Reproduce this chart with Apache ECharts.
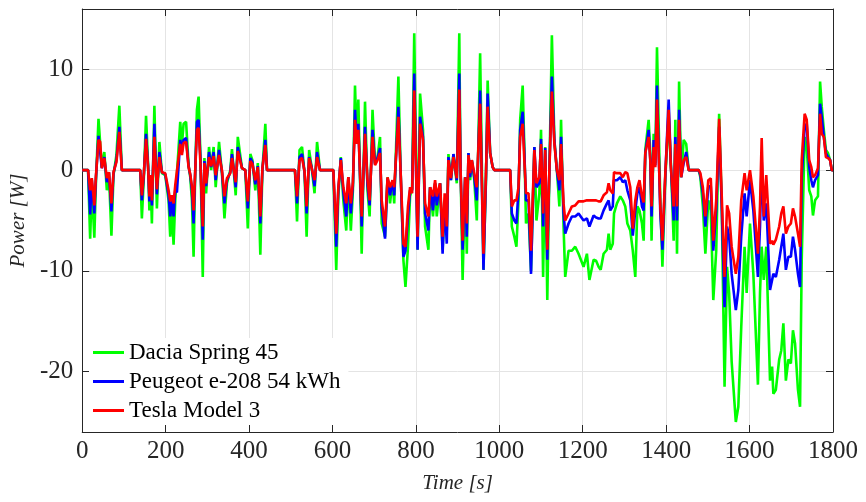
<!DOCTYPE html>
<html>
<head>
<meta charset="utf-8">
<script src="https://cdn.jsdelivr.net/npm/echarts@6/dist/echarts.min.js"></script>
<style>
html,body{margin:0;padding:0;background:#fff;}
#chart{width:866px;height:502px;}
</style>
</head>
<body>
<div id="chart"></div>
<script>
// Time stamps [s]
const time = [0,14,19,23,29,33,39,43,47,53,
 59,64,70,75,82,89,95,139,143,148,
 153,158,161,164,167,173,179,185,191,199,
 207,211,215,219,223,227,235,239,243,249,
 255,259,263,267,271,275,279,283,289,293,
 297,304,309,315,320,328,335,341,347,355,
 359,368,373,383,391,397,403,408,415,421,
 427,432,439,443,510,515,521,527,533,538,
 544,550,557,563,570,602,609,614,620,626,
 633,638,644,649,654,658,662,670,678,684,
 689,696,702,708,714,718,726,732,738,744,
 748,758,764,770,775,781,786,791,796,804,
 810,817,822,830,834,841,846,850,858,864,
 869,874,878,884,890,898,904,907,912,918,
 922,926,930,934,940,946,954,962,968,972,
 978,984,988,1026,1030,1036,1041,1046,1050,1056,
 1060,1064,1070,1076,1084,1089,1096,1100,1105,1110,
 1115,1120,1126,1132,1138,1144,1148,1154,1158,1166,
 1174,1182,1190,1202,1210,1216,1226,1232,1238,1243,
 1250,1258,1262,1266,1272,1275,1282,1290,1296,1302,
 1307,1314,1320,1326,1331,1336,1342,1346,1350,1358,
 1362,1365,1370,1374,1378,1386,1391,1398,1406,1411,
 1418,1422,1426,1431,1436,1442,1448,1454,1478,1482,
 1488,1494,1501,1507,1513,1520,1527,1533,1540,1546,
 1551,1557,1567,1573,1580,1588,1593,1601,1609,1620,
 1625,1629,1634,1640,1649,1654,1657,1663,1671,1676,
 1681,1687,1693,1699,1704,1709,1716,1721,1725,1732,
 1737,1743,1748,1752,1757,1764,1769,1773,1778,1783,
 1788,1793,1797,1800];

// Power [W] – Dacia Spring 45
const dacia = [0,0,-6.8,-1.5,-6.7,-1.0,5.1,5.0,0.3,1.8,
 -2.0,-0.3,-6.5,-0.5,1.5,6.4,0,0,-4.8,-0.5,
 5.4,0.5,-4.0,-1.0,-5.3,6.4,-3.8,2.8,-0.3,-0.5,
 -3.0,-6.6,-4.0,-7.4,-3.0,-3.1,4.8,2.5,4.6,4.8,
 0.5,-0.7,-3.0,-8.6,0,6.0,7.3,2.0,-10.6,1.2,
 -2.3,2.3,0,2.3,-1.7,2.8,-0.3,-4.8,-1.3,0,
 2.1,-2.5,3.3,0.2,0,-5.8,1.6,1.0,-2.0,0.7,
 -8.4,0,4.6,0,0,-5.1,2.0,2.3,-0.3,-6.6,
 2.0,0.3,-2.3,2.8,0,0,-9.9,-2.6,1.3,-3.0,
 -6.0,-0.7,-6.0,-2.0,8.4,3.0,7.0,-8.3,6.8,-2.0,
 -4.6,6.0,0.7,1.3,3.3,-5.3,-6.6,-0.7,-3.3,-1.0,
 -3.3,9.3,-1.0,-8.9,-11.6,-7.6,-2.6,-1.8,13.6,-7.9,
 7.6,4.0,-5.6,-7.9,-1.7,-4.6,-1.3,-4.6,-1.3,-7.9,
 -3.6,-6.0,1.6,-1.0,1.6,-1.3,13.6,0.3,-10.9,-0.7,
 -8.3,1.7,-1.0,1.0,-1.0,-5.0,11.6,-9.9,-1.0,8.9,
 1.7,0.3,0,0,-5.6,-6.6,-7.6,-3.0,5.0,8.4,
 2.3,-5.3,-4.3,-10.0,2.3,-5.0,-2.3,4.0,-10.6,2.3,
 -12.9,-0.3,13.4,3.0,0,-3.6,5.0,-5.6,-10.6,-8.0,
 -8.0,-7.6,-8.3,-9.6,-8.3,-10.9,-8.9,-9.0,-9.6,-9.9,
 -8.3,-7.9,-6.3,-7.9,-7.3,-4.3,-3.3,-2.6,-3.0,-3.6,
 -5.3,-6.0,-8.0,-10.6,-3.6,-4.0,-5.3,-7.0,2.0,5.0,
 1.7,-7.0,3.6,0.7,12.2,-3.0,-9.6,-0.7,5.3,1.0,
 -7.0,5.0,-8.3,8.8,-0.7,3.0,2.6,0,0,-0.7,
 -3.6,-8.3,-3.0,-4.0,-12.9,-8.0,5.6,-3.0,-21.5,-9.6,
 -12.2,-19.0,-25.0,-23.5,-15.6,-7.6,-12.2,-5.3,-10.3,-21.3,
 -12.2,-7.6,-10.9,-7.6,-20.9,-19.5,-22.2,-21.8,-18.8,-17.9,
 -15.2,-20.9,-18.8,-19.2,-15.9,-17.2,-21.8,-23.5,-8.9,3.3,
 2.3,-2.0,-2.6,-4.5,-3.0,-2.6,8.8,6.3,4.0,2.0,
 1.7,1.0,0,0];

// Power [W] – Peugeot e-208 54 kWh
const peugeot = [0,0,-4.4,-1.0,-4.3,-0.7,3.4,3.3,0.2,1.3,
 -1.2,-0.2,-4.1,-0.3,1.0,4.3,0,0,-3.0,-0.3,
 3.6,0.3,-3.1,-0.7,-3.5,4.6,-2.4,1.8,-0.2,-0.4,
 -2.5,-4.6,-3.0,-4.6,-2.0,-2.2,3.0,1.8,3.0,3.2,
 0.4,-0.5,-2.0,-5.3,0,4.8,5.0,1.5,-6.9,0.9,
 -1.6,1.8,0.3,1.8,-1.0,2.0,-0.2,-3.3,-1.0,-0.2,
 1.6,-1.7,2.3,0.2,0,-3.8,1.2,0.8,-1.4,0.4,
 -5.3,0.1,3.0,0,0,-3.3,1.3,1.6,-0.2,-4.3,
 1.3,0.3,-1.6,1.8,0,0,-7.6,-2.0,1.2,-2.2,
 -4.6,-0.7,-4.3,-1.5,6.0,2.8,4.6,-5.6,4.3,-1.5,
 -3.5,4.0,0.6,1.2,2.2,-3.8,-6.8,-0.8,-2.5,-1.0,
 -2.5,6.3,-1.0,-8.6,-8.0,-4.6,-2.0,-2.0,9.6,-7.9,
 5.3,3.3,-4.3,-6.0,-1.7,-4.0,-1.3,-3.5,-1.3,-8.3,
 -3.0,-7.3,1.3,-1.0,1.6,-1.0,9.6,0.2,-7.9,-0.7,
 -6.6,1.7,-0.7,1.0,-0.7,-3.0,7.9,-9.9,-0.7,7.6,
 1.7,0.3,0,0,-4.3,-5.0,-5.3,-2.0,4.0,5.8,
 1.7,-3.0,-3.0,-10.3,2.3,-1.7,-1.3,3.1,-5.6,2.2,
 -8.9,0,9.3,2.9,0,-2.0,3.3,-4.3,-6.3,-5.3,
 -4.6,-4.6,-4.3,-5.0,-4.8,-5.6,-4.5,-4.7,-4.8,-4.8,
 -4.0,-3.3,-3.0,-4.0,-3.6,-1.0,-1.0,-0.7,-1.2,-1.0,
 -2.0,-3.0,-6.5,-4.0,-2.3,-1.7,-3.6,-4.0,1.7,4.0,
 1.0,-4.6,3.0,0.5,8.4,-4.3,-7.9,-0.5,7.0,0.7,
 -5.0,3.3,-5.0,6.0,-0.7,0.7,1.8,0,0,-0.5,
 -2.3,-5.6,-1.6,-1.6,-8.0,-4.0,4.3,-3.3,-13.6,-5.6,
 -6.6,-10.3,-13.9,-11.9,-6.6,-2.3,-4.6,-1.0,-4.0,-10.6,
 -5.6,1.0,-5.0,-3.3,-11.9,-10.9,-10.3,-10.6,-8.9,-7.6,
 -6.3,-9.9,-8.6,-8.6,-6.6,-7.9,-10.3,-11.6,-0.7,4.3,
 4.6,0.3,-1.0,-1.7,-1.0,-0.5,6.6,5.3,3.3,1.7,
 1.3,1.0,0,0];

// Power [W] – Tesla Model 3
const tesla = [0,0,-2.0,-0.8,-3.5,-0.5,3.0,2.8,0.2,1.2,
 -0.8,-0.2,-3.3,-0.2,0.8,3.8,0,0,-2.5,-0.2,
 3.1,0.2,-2.6,-0.5,-3.0,3.3,-1.9,1.3,-0.2,-0.3,
 -2.0,-3.1,-2.5,-3.3,-1.5,-1.6,2.6,1.5,2.7,2.8,
 0.3,-0.4,-1.6,-4.0,0,4.0,4.2,1.0,-5.6,0.7,
 -1.3,1.3,0.4,1.4,-0.5,1.5,0,-2.6,-0.8,-0.3,
 1.2,-1.2,1.9,0.2,0,-3.1,0.9,0.6,-1.0,0.3,
 -4.6,0.2,2.5,0,0,-2.6,1.0,1.2,-0.1,-3.6,
 1.2,0.2,-1.0,1.3,0,0,-6.3,-1.7,1.0,-1.7,
 -3.3,-0.7,-3.3,-1.2,5.0,2.6,4.0,-4.6,3.6,-1.0,
 -3.0,3.3,0.5,1.0,1.7,-3.0,-5.6,-0.7,-1.7,-1.0,
 -1.7,5.3,-0.8,-7.3,-7.6,-3.6,-1.7,-2.3,7.9,-6.6,
 4.6,3.0,-3.3,-4.6,-1.7,-2.6,-1.0,-2.6,-1.3,-6.6,
 -2.3,-5.6,1.0,-0.8,1.3,-0.8,8.0,0.2,-7.0,-0.7,
 -5.3,1.5,-0.3,1.0,-0.3,-1.7,6.6,-8.3,-0.3,6.3,
 1.7,0.3,0,0,-3.6,-3.0,-3.0,-1.7,3.3,4.6,
 1.0,-2.3,-2.3,-8.0,2.0,-1.3,-0.7,2.6,-4.3,2.0,
 -7.9,0,7.8,2.6,0,-1.0,2.6,-3.3,-5.0,-4.3,
 -3.6,-3.5,-3.1,-3.1,-3.0,-3.0,-3.0,-3.0,-3.1,-3.1,
 -2.5,-2.2,-1.3,-2.0,-2.3,-0.2,-0.3,-0.3,-0.7,-0.2,
 -0.3,-1.7,-5.8,-3.0,-1.7,-1.0,-2.6,-3.2,1.7,3.3,
 1.0,-3.6,2.3,0.3,7.0,-3.6,-7.0,-0.3,6.0,0.5,
 -3.6,2.6,-3.6,5.0,-0.7,1.0,1.3,0,0,-0.3,
 -1.7,-4.6,-1.0,-0.8,-7.0,-3.0,5.1,-2.3,-10.6,-3.5,
 -4.3,-7.6,-10.3,-8.6,-3.0,-0.3,-2.0,0,-2.6,-8.3,
 -3.6,3.2,-4.6,-0.5,-7.3,-7.0,-7.4,-6.9,-5.6,-4.3,
 -3.6,-6.3,-5.6,-5.3,-3.8,-4.6,-6.3,-7.6,1.0,5.6,
 5.0,1.0,0.3,-0.7,-0.5,0.2,5.6,3.6,3.3,1.3,
 1.2,1.0,0,0];

const seriesNames = ['Dacia Spring 45', 'Peugeot e-208 54 kWh', 'Tesla Model 3'];
const seriesColors = ['#00ff00', '#0000ff', '#ff0000'];
const xTicks = [0,200,400,600,800,1000,1200,1400,1600,1800];
const yTicks = [-20,-10,0,10];
const xLabel = 'Time [s]';
const yLabel = 'Power [W]';

const serif = "'Liberation Serif', 'DejaVu Serif', serif";
const axisColor = '#262626';
const gridColor = '#e4e4e4';

function pairs(vals){ return time.map((t,i)=>[t, vals[i]]); }
const values = [dacia, peugeot, tesla];

const chart = echarts.init(document.getElementById('chart'), null, {renderer:'canvas'});

const baseAxisLine = {show:true, onZero:false, lineStyle:{color:axisColor, width:1}};
const baseTick = {show:true, inside:true, length:7, lineStyle:{color:axisColor, width:1}};
const plain = v => String(v);

const option = {
  animation:false,
  backgroundColor:'#ffffff',
  grid:{left:82, right:33, top:9, bottom:70, containLabel:false},
  legend:{
    orient:'vertical', left:89, top:338,
    backgroundColor:'#ffffff', borderWidth:0,
    padding:[3,8,3,4],
    icon:'rect',
    itemWidth:31, itemHeight:3, itemGap:6,
    textStyle:{fontFamily:serif, fontSize:23, color:'#000', lineHeight:22},
    data:seriesNames
  },
  xAxis:[
    {type:'value', position:'bottom', min:0, max:1800,
     axisLine:baseAxisLine,
     axisTick:Object.assign({}, baseTick, {customValues:xTicks}),
     axisLabel:{color:axisColor, fontFamily:serif, fontSize:25, margin:7, customValues:xTicks, formatter:plain},
     splitLine:{show:true, lineStyle:{color:gridColor, width:1}},
     name:xLabel, nameLocation:'middle', nameGap:41,
     nameTextStyle:{fontFamily:serif, fontStyle:'italic', fontSize:21, color:axisColor}
    },
    {type:'value', position:'top', min:0, max:1800,
     axisLine:baseAxisLine,
     axisTick:Object.assign({}, baseTick, {customValues:xTicks}),
     axisLabel:{show:false},
     splitLine:{show:false}
    }
  ],
  yAxis:[
    {type:'value', position:'left', min:-26, max:16,
     axisLine:baseAxisLine,
     axisTick:Object.assign({}, baseTick, {customValues:yTicks}),
     axisLabel:{color:axisColor, fontFamily:serif, fontSize:25, margin:9, customValues:yTicks, formatter:plain},
     splitLine:{show:true, lineStyle:{color:gridColor, width:1}},
     name:yLabel, nameLocation:'middle', nameGap:50,
     nameTextStyle:{fontFamily:serif, fontStyle:'italic', fontSize:21, color:axisColor}
    },
    {type:'value', position:'right', min:-26, max:16,
     axisLine:baseAxisLine,
     axisTick:Object.assign({}, baseTick, {customValues:yTicks}),
     axisLabel:{show:false},
     splitLine:{show:false}
    }
  ],
  series: seriesNames.map((name, k)=>({
    type:'line', name:name, xAxisIndex:0, yAxisIndex:0,
    data:pairs(values[k]),
    symbol:'none', showSymbol:false, smooth:false,
    lineStyle:{color:seriesColors[k], width:2.6},
    itemStyle:{color:seriesColors[k]},
    clip:true, z:2+k
  }))
};
chart.setOption(option);
</script>
</body>
</html>
